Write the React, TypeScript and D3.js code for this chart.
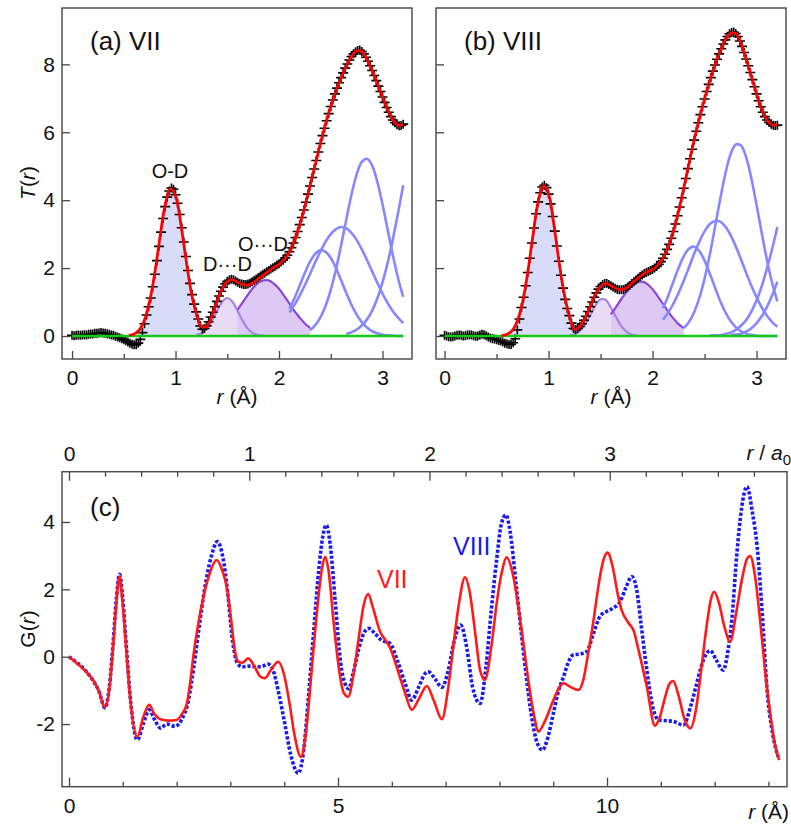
import { useRef, useEffect } from "react";
import * as d3 from "d3";

const W = 791;
const H = 828;
const FONT = "'Liberation Sans', Arial, Helvetica, sans-serif";

// ---------- (a),(b): T(r) ----------
// measured points, r = 0 ... 3.2 A every 0.02 A
const R_DATA = d3.range(161).map((i) => i * 0.02);

const tVII = [
  0.02, 0.01, 0.02, 0.03, 0.02, 0.03, 0.04, 0.03, 0.05, 0.06,
  0.06, 0.08, 0.08, 0.09, 0.1, 0.09, 0.08, 0.07, 0.05, 0.03,
  0.02, -0.01, -0.03, -0.05, -0.08, -0.11, -0.14, -0.18, -0.21, -0.24,
  -0.26, -0.26, -0.21, -0.1, 0.1, 0.36, 0.62, 0.86, 1.12, 1.45,
  1.82, 2.22, 2.64, 3.06, 3.46, 3.81, 4.09, 4.27, 4.36, 4.32,
  4.16, 3.91, 3.58, 3.19, 2.77, 2.34, 1.93, 1.55, 1.22, 0.94,
  0.71, 0.5, 0.3, 0.2, 0.22, 0.3, 0.42, 0.56, 0.7, 0.86,
  1.02, 1.18, 1.32, 1.44, 1.54, 1.61, 1.65, 1.67, 1.66, 1.62,
  1.58, 1.55, 1.53, 1.52, 1.52, 1.53, 1.56, 1.6, 1.64, 1.68,
  1.72, 1.77, 1.81, 1.85, 1.89, 1.93, 1.97, 2.01, 2.05, 2.09,
  2.13, 2.18, 2.23, 2.3, 2.38, 2.48, 2.6, 2.74, 2.9, 3.08,
  3.28, 3.49, 3.71, 3.94, 4.18, 4.42, 4.67, 4.92, 5.17, 5.42,
  5.67, 5.9, 6.12, 6.34, 6.55, 6.76, 6.95, 7.13, 7.3, 7.46,
  7.61, 7.75, 7.89, 8.01, 8.13, 8.23, 8.31, 8.37, 8.41, 8.42,
  8.38, 8.31, 8.21, 8.09, 7.96, 7.82, 7.67, 7.52, 7.36, 7.2,
  7.04, 6.88, 6.73, 6.59, 6.46, 6.36, 6.28, 6.22, 6.19, 6.2,
  6.24,
];

const tVIII = [
  0.02, 0.0, -0.02, -0.03, -0.02, 0.0, 0.02, 0.03, 0.02, 0.0,
  0.01, 0.03, 0.04, 0.03, 0.01, -0.01, 0.0, 0.03, 0.05, 0.04,
  0.01, -0.03, -0.06, -0.08, -0.09, -0.11, -0.13, -0.15, -0.18, -0.21,
  -0.23, -0.25, -0.25, -0.2, -0.08, 0.18, 0.5, 0.84, 1.14, 1.48,
  1.87, 2.29, 2.74, 3.18, 3.6, 3.95, 4.22, 4.39, 4.44, 4.37,
  4.18, 3.89, 3.52, 3.09, 2.65, 2.2, 1.79, 1.41, 1.08, 0.81,
  0.6, 0.38, 0.22, 0.19, 0.22, 0.28, 0.36, 0.46, 0.58, 0.72,
  0.86, 1.0, 1.14, 1.27, 1.38, 1.46, 1.52, 1.55, 1.55, 1.52,
  1.48, 1.44, 1.41, 1.38, 1.36, 1.36, 1.37, 1.4, 1.44, 1.49,
  1.55, 1.6, 1.65, 1.7, 1.75, 1.8, 1.84, 1.87, 1.9, 1.93,
  1.96, 2.0, 2.05, 2.11, 2.19, 2.29, 2.41, 2.55, 2.7, 2.88,
  3.08, 3.3, 3.54, 3.8, 4.07, 4.35, 4.64, 4.93, 5.22, 5.5,
  5.77, 6.03, 6.28, 6.52, 6.75, 6.98, 7.2, 7.41, 7.61, 7.8,
  7.98, 8.15, 8.31, 8.46, 8.6, 8.72, 8.82, 8.9, 8.94, 8.95,
  8.91, 8.82, 8.69, 8.53, 8.35, 8.16, 7.96, 7.76, 7.55, 7.34,
  7.13, 6.93, 6.75, 6.59, 6.46, 6.36, 6.29, 6.24, 6.21, 6.2,
  6.21,
];

// fitted curves, r = 0.55 ... 3.2 A every 0.05 A
const FIT_R0 = 0.55;
const fitVII = [
  0.02, 0.06, 0.18, 0.47, 1.02, 1.87, 2.92, 3.86, 4.34, 4.13,
  3.33, 2.28, 1.32, 0.68, 0.28, 0.28, 0.58, 1.02, 1.38, 1.6,
  1.66, 1.58, 1.52, 1.5, 1.57, 1.69, 1.8, 1.91, 2.02, 2.11,
  2.25, 2.47, 2.82, 3.27, 3.82, 4.43, 5.05, 5.67, 6.25, 6.76,
  7.21, 7.6, 7.95, 8.23, 8.4, 8.38, 8.15, 7.82, 7.44, 7.04,
  6.66, 6.36, 6.21, 6.23,
];
const fitVIII = [
  0.01, 0.05, 0.16, 0.44, 0.99, 1.87, 2.96, 3.95, 4.43, 4.18,
  3.31, 2.2, 1.25, 0.6, 0.2, 0.28, 0.52, 0.86, 1.21, 1.46,
  1.55, 1.48, 1.4, 1.36, 1.42, 1.55, 1.68, 1.8, 1.89, 1.96,
  2.08, 2.29, 2.62, 3.08, 3.67, 4.35, 5.08, 5.77, 6.4, 6.98,
  7.51, 7.98, 8.39, 8.72, 8.92, 8.91, 8.61, 8.16, 7.65, 7.13,
  6.67, 6.36, 6.22, 6.21,
];

// fit components (0.05 A steps from the given start)
const odVII = [0.02, 0.06, 0.18, 0.47, 1.02, 1.87, 2.92, 3.86, 4.34, 4.13, 3.33, 2.28, 1.32, 0.65, 0.27, 0.1, 0.03, 0.01];
const ddVII = [0.03, 0.08, 0.21, 0.44, 0.74, 1.01, 1.12, 1.01, 0.74, 0.44, 0.21, 0.08, 0.03, 0.01];
const oodVII = [0.78, 1.0, 1.22, 1.42, 1.57, 1.64, 1.64, 1.54, 1.39, 1.18, 0.96, 0.73, 0.54, 0.37, 0.24];
const bluesVII: [number, number[]][] = [
  [2.1, [0.8, 1.12, 1.49, 1.86, 2.19, 2.42, 2.53, 2.48, 2.3, 2.0, 1.64, 1.27, 0.92, 0.63, 0.41, 0.25, 0.14, 0.08, 0.04, 0.02, 0.01, 0, 0]],
  [2.1, [0.69, 0.92, 1.19, 1.5, 1.83, 2.17, 2.49, 2.78, 3.0, 3.15, 3.21, 3.17, 3.04, 2.83, 2.55, 2.24, 1.9, 1.57, 1.25, 0.97, 0.73, 0.54, 0.38]],
  [2.3, [0.17, 0.32, 0.55, 0.89, 1.36, 1.96, 2.67, 3.43, 4.16, 4.76, 5.13, 5.22, 5.02, 4.54, 3.88, 3.13, 2.38, 1.7, 1.15]],
  [2.65, [0.06, 0.11, 0.19, 0.31, 0.49, 0.75, 1.11, 1.58, 2.16, 2.85, 3.62, 4.44]],
];

const odVIII = [0.01, 0.05, 0.16, 0.44, 0.99, 1.87, 2.96, 3.95, 4.43, 4.18, 3.31, 2.2, 1.23, 0.58, 0.23, 0.08, 0.02, 0];
const ddVIII = [0.02, 0.05, 0.15, 0.33, 0.61, 0.9, 1.08, 1.06, 0.84, 0.55, 0.29, 0.12, 0.04, 0.01];
const oodVIII = [0.64, 0.86, 1.09, 1.3, 1.47, 1.58, 1.6, 1.53, 1.38, 1.17, 0.95, 0.72, 0.52, 0.35, 0.23];
const bluesVIII: [number, number[]][] = [
  [2.1, [0.82, 1.18, 1.6, 2.0, 2.35, 2.57, 2.63, 2.5, 2.22, 1.84, 1.43, 1.03, 0.7, 0.44, 0.26, 0.14, 0.07, 0.03, 0.01, 0, 0, 0, 0]],
  [2.1, [0.48, 0.69, 0.95, 1.27, 1.63, 2.02, 2.42, 2.78, 3.08, 3.3, 3.39, 3.37, 3.22, 2.97, 2.64, 2.26, 1.86, 1.48, 1.14, 0.84, 0.6, 0.41, 0.27]],
  [2.3, [0.23, 0.41, 0.7, 1.12, 1.69, 2.39, 3.2, 4.03, 4.78, 5.35, 5.64, 5.61, 5.26, 4.64, 3.86, 3.03, 2.24, 1.56, 1.02]],
  [2.55, [0.01, 0.02, 0.03, 0.06, 0.1, 0.18, 0.3, 0.47, 0.72, 1.05, 1.47, 1.99, 2.57, 3.21]],
  [2.75, [0.02, 0.04, 0.07, 0.13, 0.23, 0.38, 0.58, 0.86, 1.2, 1.6]],
];

// ---------- (c): G(r) ----------
const rVII = [
  0, 0.15, 0.3, 0.45, 0.55, 0.67, 0.75, 0.82, 0.88, 0.935, 0.99, 1.06, 1.14, 1.27, 1.38, 1.49, 1.58, 1.7, 1.85, 2.0,
  2.1, 2.19, 2.25, 2.31, 2.4, 2.5, 2.62, 2.745, 2.85, 2.93, 3.02, 3.08, 3.15, 3.22, 3.33, 3.45, 3.55, 3.64, 3.75, 3.89,
  4.0, 4.1, 4.2, 4.31, 4.4, 4.5, 4.6, 4.7, 4.76, 4.82, 4.92, 5.03, 5.1, 5.19, 5.28, 5.38, 5.48, 5.56, 5.65, 5.78,
  5.9, 5.97, 6.1, 6.25, 6.37, 6.52, 6.65, 6.78, 6.93, 7.05, 7.15, 7.25, 7.36, 7.45, 7.55, 7.64, 7.73, 7.85, 7.95, 8.05,
  8.13, 8.25, 8.35, 8.45, 8.55, 8.65, 8.72, 8.85, 9.0, 9.1, 9.19, 9.3, 9.47, 9.55, 9.65, 9.75, 9.85, 9.93, 10.01, 10.1,
  10.2, 10.27, 10.4, 10.49, 10.6, 10.74, 10.89, 10.98, 11.08, 11.16, 11.23, 11.32, 11.45, 11.55, 11.65, 11.75, 11.85, 11.93, 11.99, 12.08,
  12.18, 12.29, 12.4, 12.52, 12.6, 12.66, 12.75, 12.85, 12.95, 13.05, 13.12, 13.2,
];
const gVII = [
  0, -0.2, -0.42, -0.7, -1.0, -1.5, -0.95, 0.3, 1.6, 2.38, 1.7, 0.3, -1.3, -2.38, -1.8, -1.43, -1.68, -1.86, -1.9, -1.88,
  -1.7, -1.39, -0.8, 0.0, 0.95, 1.78, 2.5, 2.87, 2.55, 2.08, 1.0, 0.2, -0.15, -0.18, -0.05, -0.3, -0.58, -0.64, -0.4, -0.15,
  -0.55, -1.4, -2.4, -2.97, -2.3, -0.6, 1.2, 2.6, 2.97, 2.6, 1.0, -0.5, -1.05, -1.19, -0.6, 0.5, 1.55, 1.86, 1.45, 0.75,
  0.45, 0.25, -0.35, -1.1, -1.58, -1.2, -0.87, -1.3, -1.86, -0.9, 0.4, 1.6, 2.36, 1.9, 0.7, -0.4, -0.69, 0.3, 1.6, 2.55,
  2.95, 2.45, 1.5, 0.35, -0.85, -1.8, -2.23, -1.9, -1.3, -0.95, -0.79, -0.88, -0.99, -0.75, 0.1, 1.09, 2.2, 2.85, 3.09, 2.7,
  1.85, 1.39, 1.0, 0.79, 0.1, -0.89, -2.05, -1.8, -1.2, -0.8, -0.72, -1.1, -1.9, -2.13, -1.6, -0.4, 0.9, 1.7, 1.93, 1.6,
  0.9, 0.45, 1.3, 2.4, 2.9, 2.99, 2.4, 1.0, -0.6, -1.9, -2.6, -3.07,
];

const rVIII = [
  0, 0.15, 0.3, 0.45, 0.55, 0.67, 0.75, 0.82, 0.88, 0.94, 1.0, 1.07, 1.15, 1.27, 1.38, 1.49, 1.6, 1.7, 1.82, 1.97,
  2.1, 2.22, 2.32, 2.42, 2.52, 2.64, 2.76, 2.86, 2.95, 3.03, 3.13, 3.22, 3.35, 3.5, 3.6, 3.7, 3.78, 3.9, 4.0, 4.12,
  4.26, 4.36, 4.45, 4.55, 4.65, 4.72, 4.78, 4.85, 4.95, 5.05, 5.13, 5.2, 5.28, 5.38, 5.48, 5.57, 5.68, 5.8, 5.97, 6.1,
  6.25, 6.37, 6.5, 6.62, 6.68, 6.8, 6.93, 7.05, 7.15, 7.28, 7.4, 7.5, 7.64, 7.75, 7.85, 7.95, 8.03, 8.12, 8.2, 8.3,
  8.4, 8.5, 8.6, 8.7, 8.8, 8.9, 9.0, 9.1, 9.19, 9.3, 9.37, 9.5, 9.62, 9.75, 9.87, 10.0, 10.12, 10.24, 10.35, 10.46,
  10.55, 10.63, 10.74, 10.85, 10.96, 11.1, 11.23, 11.42, 11.55, 11.65, 11.75, 11.85, 11.92, 12.03, 12.16, 12.25, 12.32, 12.41, 12.5, 12.6,
  12.7, 12.79, 12.88, 12.97, 13.08, 13.18,
];
const gVIII = [
  0, -0.18, -0.4, -0.72, -1.0, -1.52, -0.9, 0.4, 1.7, 2.45, 1.7, 0.2, -1.4, -2.47, -2.0, -1.58, -1.9, -2.12, -2.0, -2.07,
  -1.85, -1.3, -0.3, 0.9, 2.0, 2.95, 3.42, 2.95, 1.9, 0.6, -0.19, -0.3, -0.28, -0.3, -0.28, -0.22, -0.35, -1.1, -1.9, -2.9,
  -3.46, -2.8, -1.2, 0.8, 2.7, 3.6, 3.91, 3.4, 1.6, -0.2, -0.8, -0.95, -0.5, 0.2, 0.7, 0.84, 0.7, 0.5, 0.39, -0.1,
  -0.8, -1.29, -0.9, -0.5, -0.45, -0.65, -0.91, -0.4, 0.4, 0.94, 0.2, -0.9, -1.39, -0.3, 1.4, 2.9, 3.9, 4.21, 3.7, 2.3,
  0.8, -0.6, -1.8, -2.55, -2.77, -2.4, -1.7, -1.0, -0.6, -0.1, 0.05, 0.08, 0.15, 0.7, 1.2, 1.35, 1.45, 1.63, 2.05, 2.38,
  2.0, 1.0, -0.4, -1.5, -1.88, -1.9, -1.92, -2.03, -1.5, -0.9, -0.3, 0.1, 0.18, -0.1, -0.4, 0.2, 1.1, 3.0, 4.4, 5.05,
  4.3, 3.27, 1.4, -0.89, -2.3, -2.97,
];

const A0 = 3.35; // lattice constant for the upper axis, A

// ---------- layout ----------
const yT = d3.scaleLinear().domain([-0.677, 9.66]).range([359, 8]);
const xA = d3.scaleLinear().domain([-0.097, 3.285]).range([62, 412]);
const xB = d3.scaleLinear().domain([-0.082, 3.283]).range([436, 786]);
const xC = d3.scaleLinear().domain([-0.13, 13.345]).range([62, 787]);
const xTop = d3.scaleLinear().domain(xC.domain().map((v) => v / A0)).range(xC.range());
const yC = d3.scaleLinear().domain([-3.861, 5.494]).range([786.7, 471.7]);

const steps = (r0: number, vals: number[]) => vals.map((v, i) => [r0 + i * 0.05, v]);

function TPanel({ x, data, fit, od, dd, ood, blues }) {
  const curve = d3.curveCatmullRom.alpha(0.5);
  const ln = d3.line<number[]>().x((d) => x(d[0])).y((d) => yT(d[1])).curve(curve);
  const ar = d3.area<number[]>().x((d) => x(d[0])).y0(yT(0)).y1((d) => yT(d[1])).curve(curve);
  const odPts = steps(0.55, od);
  const ddPts = steps(1.2, dd);
  const oodPts = steps(1.6, ood);
  // "+" markers for the measured points
  const marks = R_DATA.map((r, i) => {
    const px = x(r), py = yT(data[i]);
    return `M${px - 5},${py}h10M${px},${py - 4.5}v9`;
  }).join("");
  return (
    <g>
      <path d={ar(odPts)} fill="#d9dcf9" />
      <path d={ar(ddPts)} fill="#e9dbf5" />
      <path d={ar(oodPts)} fill="#ddc9f3" />
      <path d={ln(ddPts)} fill="none" stroke="#a784e4" strokeWidth={2.2} />
      <path d={ln(oodPts)} fill="none" stroke="#8a46d6" strokeWidth={2.2} />
      {blues.map(([r0, v], i) => (
        <path key={i} d={ln(steps(r0, v))} fill="none" stroke="#8787ff" strokeWidth={2.6} />
      ))}
      <path d={marks} stroke="#000" strokeWidth={1.6} fill="none" />
      <line x1={x(0)} x2={x(3.2)} y1={yT(0)} y2={yT(0)} stroke="#14c814" strokeWidth={2.6} />
      <path d={ln(steps(FIT_R0, fit))} fill="none" stroke="#ff0000" strokeWidth={2.8} />
    </g>
  );
}

export default function App() {
  const ref = useRef<SVGGElement>(null);

  useEffect(() => {
    const root = d3.select(ref.current);
    const fmt = (d) => String(d);
    const none = () => "";
    const style = (sel) => {
      sel.select(".domain").remove();
      sel.selectAll("line").attr("stroke", "#444").attr("stroke-width", 1.3);
      sel.selectAll("text").attr("fill", "#111");
      sel.attr("font-size", 21).attr("font-family", FONT);
    };
    const put = (cls, axis, tr) => root.select(cls).attr("transform", tr).call(axis).call(style);

    // (a) and (b)
    [["a", xA], ["b", xB]].forEach(([id, x]: any) => {
      put(`.x-${id}`, d3.axisBottom(x).tickValues([0, 1, 2, 3]).tickSize(-8).tickPadding(11).tickFormat(fmt), `translate(0,359)`);
      put(`.xm-${id}`, d3.axisBottom(x).tickValues([0.5, 1.5, 2.5]).tickSize(-5).tickFormat(none), `translate(0,359)`);
      put(`.y-${id}`, d3.axisLeft(yT).tickValues([0, 2, 4, 6, 8]).tickSize(-8).tickPadding(7).tickFormat(id === "a" ? fmt : none), `translate(${x.range()[0]},0)`);
    });

    // (c)
    put(".x-c", d3.axisBottom(xC).tickValues([0, 5, 10]).tickSize(-9).tickPadding(11).tickFormat(fmt), `translate(0,786.7)`);
    put(".xm-c", d3.axisBottom(xC).tickValues(d3.range(1, 14).filter((v) => v % 5 !== 0)).tickSize(-5).tickFormat(none), `translate(0,786.7)`);
    put(".t-c", d3.axisTop(xTop).tickValues([0, 1, 2, 3]).tickSize(-9).tickPadding(11).tickFormat(fmt), `translate(0,471.7)`);
    put(".tm-c", d3.axisTop(xTop).tickValues(d3.range(1, 20).map((i) => i * 0.2).filter((v) => Math.abs(v - Math.round(v)) > 0.01)).tickSize(-5).tickFormat(none), `translate(0,471.7)`);
    put(".y-c", d3.axisLeft(yC).tickValues([-2, 0, 2, 4]).tickSize(-8).tickPadding(7).tickFormat(fmt), `translate(62,0)`);
  }, []);

  const lc = (xs, ys) =>
    d3.line<number>().x((_, i) => xC(xs[i])).y((_, i) => yC(ys[i])).curve(d3.curveMonotoneX)(ys);

  const it = { fontStyle: "italic" } as const;

  return (
    <div style={{ position: "absolute", left: 0, top: 0 }}>
      <svg width={W} height={H} style={{ display: "block", background: "#fff" }} fontFamily={FONT}>
        <TPanel x={xA} data={tVII} fit={fitVII} od={odVII} dd={ddVII} ood={oodVII} blues={bluesVII} />
        <TPanel x={xB} data={tVIII} fit={fitVIII} od={odVIII} dd={ddVIII} ood={oodVIII} blues={bluesVIII} />

        <path d={lc(rVIII, gVIII)} fill="none" stroke="#1a1af2" strokeWidth={3.6} strokeDasharray="3.2,1.9" />
        <path d={lc(rVII, gVII)} fill="none" stroke="#ff1a1a" strokeWidth={2.6} />

        <g ref={ref}>
          <g className="x-a" /><g className="xm-a" /><g className="y-a" />
          <g className="x-b" /><g className="xm-b" /><g className="y-b" />
          <g className="x-c" /><g className="xm-c" /><g className="t-c" /><g className="tm-c" /><g className="y-c" />
        </g>

        <rect x={62} y={8} width={350} height={351} fill="none" stroke="#505050" strokeWidth={1.5} />
        <rect x={436} y={8} width={350} height={351} fill="none" stroke="#505050" strokeWidth={1.5} />
        <rect x={62} y={471.7} width={725} height={315} fill="none" stroke="#505050" strokeWidth={1.5} />

        <g fill="#111" fontSize={26}>
          <text x={90} y={50}>(a) VII</text>
          <text x={464} y={50}>(b) VIII</text>
          <text x={90} y={516}>(c)</text>
        </g>
        <g fill="#111" fontSize={20}>
          <text x={170} y={178} textAnchor="middle">O-D</text>
          <text x={203} y={271}>D···D</text>
          <text x={238} y={251}>O···D</text>
        </g>
        <text x={377} y={588} fontSize={25} fill="#ff1a1a">VII</text>
        <text x={453} y={555} fontSize={25} fill="#1a1af2">VIII</text>

        <g fill="#111" fontSize={21}>
          <text transform="translate(35,183) rotate(-90)" textAnchor="middle">
            <tspan style={it}>T</tspan>(<tspan style={it}>r</tspan>)
          </text>
          <text transform="translate(35,629) rotate(-90)" textAnchor="middle">
            G(<tspan style={it}>r</tspan>)
          </text>
          <text x={237} y={404} textAnchor="middle"><tspan style={it}>r</tspan> (Å)</text>
          <text x={611} y={404} textAnchor="middle"><tspan style={it}>r</tspan> (Å)</text>
          <text x={789} y={819} textAnchor="end"><tspan style={it}>r</tspan> (Å)</text>
          <text x={791} y={460} textAnchor="end">
            <tspan style={it}>r</tspan> / <tspan style={it}>a</tspan>
            <tspan dy={5} fontSize={15}>0</tspan>
          </text>
        </g>
      </svg>
    </div>
  );
}
